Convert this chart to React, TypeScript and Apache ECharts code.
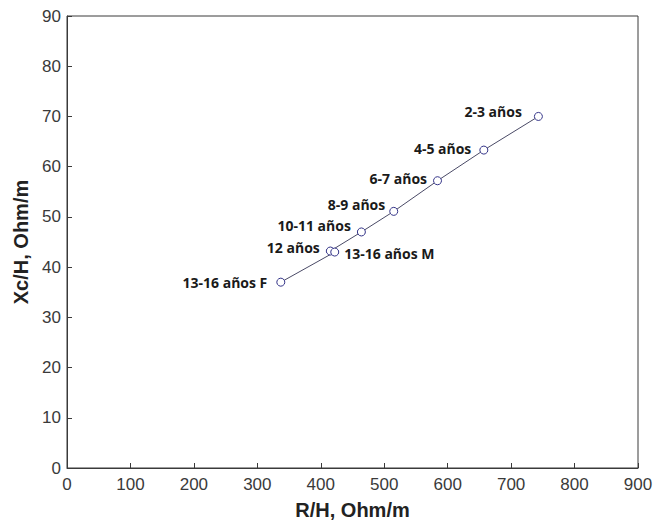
import React, { useEffect, useRef } from "react";
import * as echarts from "echarts";

const groups = ["2-3 años", "4-5 años", "6-7 años", "8-9 años", "10-11 años", "12 años", "13-16 años M", "13-16 años F"];
const rhValues = [743, 657, 584, 515, 464, 415, 422, 337];
const xchValues = [70, 63.3, 57.2, 51.1, 47, 43.2, 43, 37];
const xTicks = [0, 100, 200, 300, 400, 500, 600, 700, 800, 900];
const yTicks = [0, 10, 20, 30, 40, 50, 60, 70, 80, 90];

const labelPlacement: Record<string, { position: string; offset: number[] }> = {
  "2-3 años": { position: "left", offset: [-7, -5] },
  "4-5 años": { position: "left", offset: [-3, -2] },
  "6-7 años": { position: "left", offset: [-1, -2] },
  "8-9 años": { position: "left", offset: [1, -7] },
  "10-11 años": { position: "left", offset: [-1, -6] },
  "12 años": { position: "left", offset: [-1, -4] },
  "13-16 años M": { position: "right", offset: [0, 1] },
  "13-16 años F": { position: "left", offset: [-4, 0] },
};

export default function App() {
  const ref = useRef<HTMLDivElement>(null);
  useEffect(() => {
    if (!ref.current) return;
    const chart = echarts.init(ref.current, null, { renderer: "svg" });
    const data = groups.map((g, i) => ({
      name: g,
      value: [rhValues[i], xchValues[i]],
      label: {
        show: true,
        position: labelPlacement[g].position,
        offset: labelPlacement[g].offset,
        distance: 5,
      },
    }));
    chart.setOption({
      animation: false,
      backgroundColor: "#ffffff",
      grid: { left: 67, right: 18, top: 16, bottom: 59, show: true, borderColor: "#3a3a3a", borderWidth: 1 },
      xAxis: {
        type: "value",
        min: xTicks[0],
        max: xTicks[xTicks.length - 1],
        interval: 100,
        name: "R/H, Ohm/m",
        nameLocation: "middle",
        nameGap: 32,
        nameTextStyle: { fontFamily: "Liberation Sans", fontWeight: "bold", fontSize: 20, color: "#222" },
        axisLine: { show: true, lineStyle: { color: "#3a3a3a", width: 1 } },
        axisTick: { show: true, inside: true, length: 5, lineStyle: { color: "#3a3a3a" } },
        axisLabel: { fontFamily: "Liberation Sans", fontSize: 17, color: "#3a3a3a", margin: 8 },
        splitLine: { show: false },
      },
      yAxis: {
        type: "value",
        min: yTicks[0],
        max: yTicks[yTicks.length - 1],
        interval: 10,
        name: "Xc/H, Ohm/m",
        nameLocation: "middle",
        nameGap: 35,
        nameTextStyle: { fontFamily: "Liberation Sans", fontWeight: "bold", fontSize: 20, color: "#222" },
        axisLine: { show: true, lineStyle: { color: "#3a3a3a", width: 1 } },
        axisTick: { show: true, inside: true, length: 5, lineStyle: { color: "#3a3a3a" } },
        axisLabel: { fontFamily: "Liberation Sans", fontSize: 17, color: "#3a3a3a", margin: 6 },
        splitLine: { show: false },
      },
      series: [
        {
          type: "line",
          data,
          symbol: "circle",
          symbolSize: 8,
          lineStyle: { color: "#4a4a66", width: 1 },
          itemStyle: { color: "#ffffff", borderColor: "#333388", borderWidth: 1 },
          label: {
            show: true,
            formatter: "{b}",
            fontFamily: "Open Sans",
            fontWeight: "bold",
            fontSize: 14,
            color: "#1a1a1a",
          },
          z: 3,
        },
      ],
    });
    return () => chart.dispose();
  }, []);
  return <div ref={ref} style={{ position: "absolute", left: 0, top: 0, width: 656, height: 527 }} />;
}
